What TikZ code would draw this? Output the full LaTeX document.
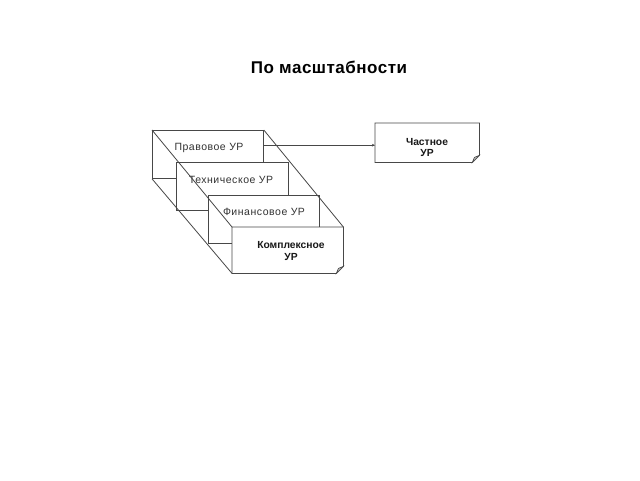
\documentclass[tikz,border=0pt]{standalone}
\usepackage{fontspec}
\setmainfont{Liberation Sans}
\usetikzlibrary{arrows.meta,calc}
\begin{document}
\begin{tikzpicture}[x=1pt,y=-1pt,
  ln/.style={draw=black!72,line width=0.8pt},
  box/.style={ln,fill=white,rectangle,inner sep=0pt,anchor=north west},
  plain/.style={rectangle,inner sep=0pt,anchor=north west},
  lbl/.style={inner sep=0pt,text=black!80,font=\fontsize{10.5}{12}\selectfont\addfontfeature{LetterSpace=5}},
  blbl/.style={inner sep=0pt,align=center,text=black!90,font=\fontsize{10.3}{11.5}\selectfont\bfseries},
  arr/.style={ln,-{Stealth[length=3pt,width=2.6pt]}},
  flap/.style={draw=black!72,line width=0.6pt,fill=black!25}]
\useasboundingbox[fill=white] (0,0) rectangle (640,480);
% title
\node[inner sep=0pt,font=\fontsize{17}{20}\selectfont\bfseries\addfontfeature{LetterSpace=3}] (title) at (329,67) {По масштабности};
% stacked boxes, back to front
\node[box,minimum width=111pt,minimum height=48pt] (pravo) at (152,130) {};
\node[lbl] (pravoT) at (209,148) {Правовое УР};
\node[box,minimum width=112pt,minimum height=48pt] (tech) at (176,162) {};
\node[lbl] (techT) at (231,180) {Техническое УР};
\node[box,minimum width=111pt,minimum height=48pt] (fin) at (208,194.5) {};
\node[lbl] (finT) at (264,212) {Финансовое УР};
\node[plain,minimum width=111pt,minimum height=46pt] (komp) at (232,227) {};
\fill[white] (komp.north west) rectangle (komp.south east);
% diagonals
\draw[ln] (pravo.north west) -- (komp.north west);
\draw[ln] (pravo.north east) -- (komp.north east);
\draw[ln] (pravo.south west) -- (komp.south west);
% front box with folded corner
\draw[ln,fill=white] (komp.north west) -- (komp.north east) -- ([yshift=7pt]komp.south east)
  -- ([xshift=-7pt]komp.south east) -- (komp.south west) -- cycle;
\filldraw[flap] ([yshift=7pt]komp.south east) -- ([xshift=-7pt]komp.south east)
  -- ([xshift=-5pt,yshift=5pt]komp.south east) -- cycle;
\node[blbl] (kompT) at (291,251) {Комплексное\\УР};
% right box
\node[plain,minimum width=104pt,minimum height=39pt] (chast) at (375,123) {};
\draw[ln,fill=white] (chast.north west) -- (chast.north east) -- ([yshift=7pt]chast.south east)
  -- ([xshift=-7pt]chast.south east) -- (chast.south west) -- cycle;
\filldraw[flap] ([yshift=7pt]chast.south east) -- ([xshift=-7pt]chast.south east)
  -- ([xshift=-5pt,yshift=5pt]chast.south east) -- cycle;
\node[blbl] (chastT) at (427,147.5) {Частное\\УР};
% connector
\coordinate (ah) at ([yshift=-2.5pt]chast.west);
\draw[arr] (pravo.east |- ah) -- (ah);
\end{tikzpicture}
\end{document}
